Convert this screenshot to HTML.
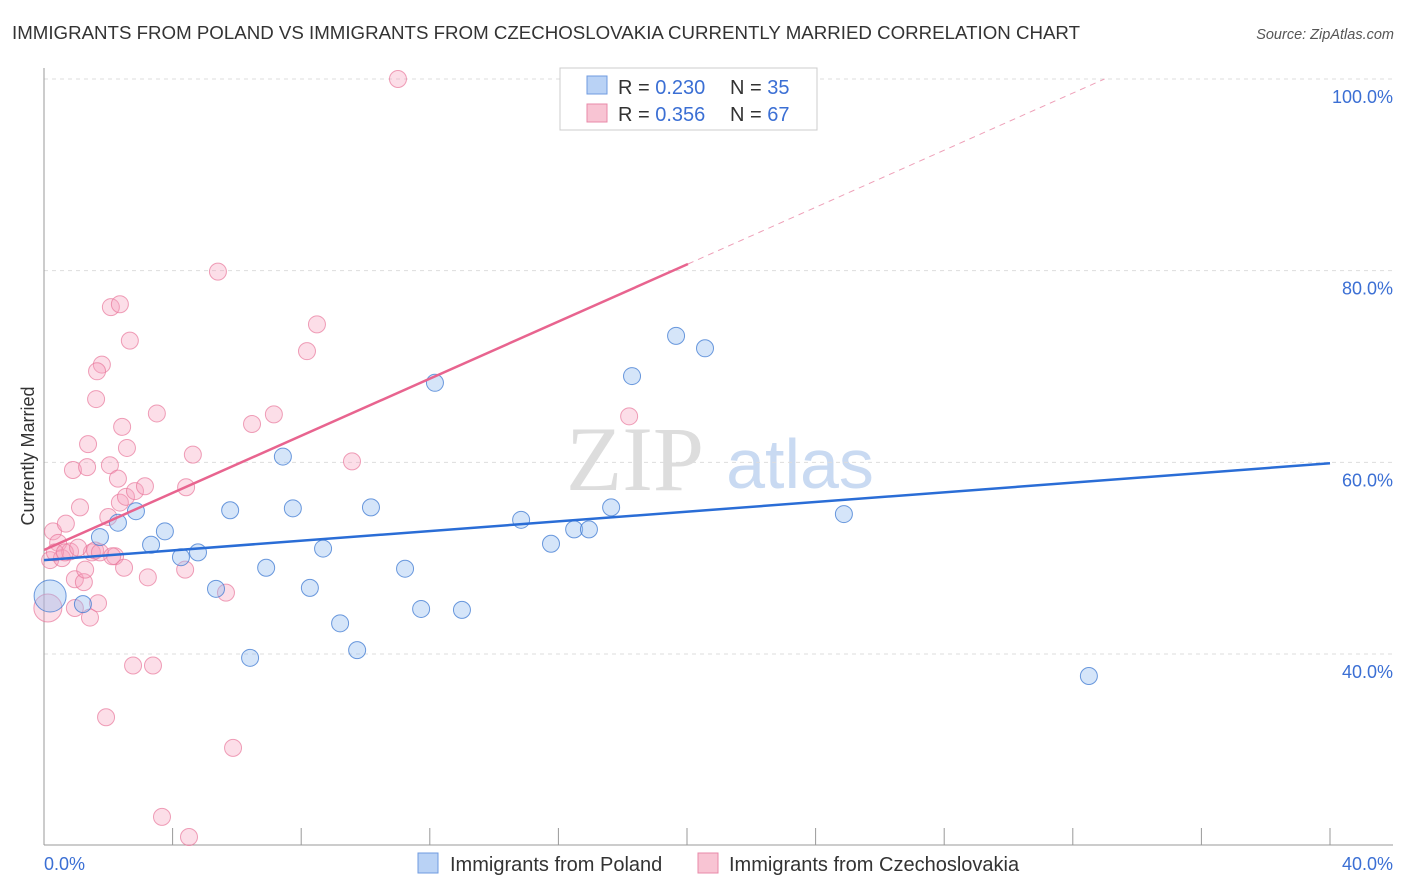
<!DOCTYPE html>
<html><head><meta charset="utf-8"><style>
body{margin:0;background:#fff;font-family:"Liberation Sans",sans-serif;}
svg{display:block}
</style></head><body>
<svg id="chart" width="1406" height="892">
<text x="12" y="39" font-size="18.6" fill="#333" textLength="1068" lengthAdjust="spacingAndGlyphs">IMMIGRANTS FROM POLAND VS IMMIGRANTS FROM CZECHOSLOVAKIA CURRENTLY MARRIED CORRELATION CHART</text>
<text x="1394" y="39" font-size="14.5" fill="#555" font-style="italic" text-anchor="end">Source: ZipAtlas.com</text>
<text x="635" y="490" font-size="92" fill="#ddd" font-family="Liberation Serif,serif" text-anchor="middle">ZIP</text>
<text x="800" y="488" font-size="70" fill="#c9daf2" text-anchor="middle">atlas</text>
<g id="grid"></g><g id="axes"></g><g id="marks"></g>
<text transform="translate(34,456) rotate(-90)" font-size="18" fill="#333" text-anchor="middle">Currently Married</text>
<g>
<rect x="560" y="68" width="257" height="62" fill="#fff" stroke="#ccc"/>
<rect x="587" y="76" width="20" height="18" fill="#b9d2f5" stroke="#6f9be0"/>
<rect x="587" y="104" width="20" height="18" fill="#f8c4d3" stroke="#e88aa8"/>
<text y="94" font-size="20" fill="#333"><tspan x="618">R = </tspan><tspan fill="#3b6fd4">0.230</tspan><tspan x="730">N = </tspan><tspan fill="#3b6fd4">35</tspan></text>
<text y="121" font-size="20" fill="#333"><tspan x="618">R = </tspan><tspan fill="#3b6fd4">0.356</tspan><tspan x="730">N = </tspan><tspan fill="#3b6fd4">67</tspan></text>
</g>
<g>
<rect x="418" y="853" width="20" height="20" fill="#b9d2f5" stroke="#6f9be0"/>
<text x="450" y="871" font-size="20" fill="#333">Immigrants from Poland</text>
<rect x="698" y="853" width="20" height="20" fill="#f8c4d3" stroke="#e88aa8"/>
<text x="729" y="871" font-size="20" fill="#333">Immigrants from Czechoslovakia</text>
</g>
</svg>
<script>
const blueX=[0.19,1.21,1.74,2.30,2.86,3.33,3.76,4.26,4.79,5.35,5.79,6.41,6.91,7.43,7.74,8.27,8.68,9.21,9.74,10.17,11.23,11.73,12.16,13.0,14.84,15.77,16.49,16.95,17.64,18.29,19.66,20.56,24.88,32.5];
const blueY=[46.05,45.2,52.2,53.7,54.9,51.4,52.8,50.1,50.6,46.8,55.0,39.6,49.0,60.6,55.2,46.9,51.0,43.2,40.4,55.3,48.9,44.7,68.3,44.6,54.0,51.5,53.0,53.0,55.3,69.0,73.2,71.9,54.6,37.7];
const pinkX=[0.12,0.19,0.28,0.44,0.56,0.68,0.81,0.9,0.96,0.96,1.12,1.24,1.28,1.34,1.37,1.43,1.49,1.59,1.68,1.8,1.65,1.62,1.93,2.0,2.05,2.08,2.21,2.3,2.36,2.36,2.43,2.49,2.55,2.58,2.67,2.77,2.83,3.14,3.23,3.39,3.51,3.67,4.42,4.39,4.51,4.63,5.41,5.66,5.88,6.47,7.15,8.18,8.49,9.58,11.01,18.2,0.34,0.65,1.06,1.74,2.12];
const pinkY=[44.8,49.8,52.8,51.6,50.0,53.6,50.7,59.2,44.8,47.8,55.3,47.5,48.8,59.5,61.9,43.8,50.6,50.8,45.3,70.2,69.5,66.6,33.4,54.3,59.7,76.2,50.2,58.3,55.8,76.5,63.7,49.0,56.4,61.5,72.7,38.8,57.0,57.5,48.0,38.8,65.1,23.0,57.4,48.8,20.9,60.8,79.9,46.4,30.2,64.0,65.0,71.6,74.4,60.1,100,64.8,50.6,50.6,51.1,50.6,50.2];
const yTicks=[40,60,80,100];
const yTickLabels=["40.0%","60.0%","80.0%","100.0%"];
const xTickLabels=["0.0%","40.0%"];
const blueTrend=[49.8,59.9];
const pinkTrend=[50.85,1.49];
const NS="http://www.w3.org/2000/svg";
function sx(v){return 44+v*32.15;}
function sy(v){return 79+(100-v)*9.583;}
function mk(tag,attrs,parent){const e=document.createElementNS(NS,tag);for(const k in attrs)e.setAttribute(k,attrs[k]);document.getElementById(parent).appendChild(e);return e;}
yTicks.forEach((t,i)=>{
 const l=mk('line',{x1:44,x2:1393,y1:sy(t),y2:sy(t),stroke:'#ddd','stroke-dasharray':'4,4'},'grid');
 
 
 const tx=mk('text',{x:1393,y:sy(t)+24,'font-size':18,fill:'#3b6fd4','text-anchor':'end'},'grid');
 tx.textContent=yTickLabels[i];
 
 
});
const ya=mk('line',{x1:44,x2:44,y1:68,y2:845,stroke:'#999'},'axes');


const xa=mk('line',{x1:44,x2:1393,y1:845,y2:845,stroke:'#999'},'axes');


for(let i=1;i<=10;i++){
 const v=i*4;
 const tk=mk('line',{x1:sx(v),x2:sx(v),y1:828,y2:845,stroke:'#999'},'axes');
 
 
}
[[0,'start',44],[40,'end',1393]].forEach((d,i)=>{
 const t=mk('text',{x:d[2],y:870,'font-size':18,fill:'#3b6fd4','text-anchor':d[1]},'axes');
 t.textContent=xTickLabels[i];
 
 
});
pinkX.forEach((x,i)=>{
 const c=mk('circle',{cx:sx(x),cy:sy(pinkY[i]),r:i===0?14:8.5,fill:'rgba(245,160,188,0.35)',stroke:'rgba(232,120,155,0.7)','stroke-width':1},'marks');
 
 
});
blueX.forEach((x,i)=>{
 const c=mk('circle',{cx:sx(x),cy:sy(blueY[i]),r:i===0?16:8.5,fill:'rgba(150,190,240,0.4)',stroke:'rgba(60,120,210,0.75)','stroke-width':1},'marks');
 
 
});
const bl=mk('line',{x1:sx(0),y1:sy(blueTrend[0]),x2:sx(40),y2:sy(blueTrend[1]),stroke:'#2a6dd6','stroke-width':2.5},'marks');


const pEnd=20.03, pDash=(100-pinkTrend[0])/pinkTrend[1];
const pl=mk('line',{x1:sx(0),y1:sy(pinkTrend[0]),x2:sx(pEnd),y2:sy(pinkTrend[0]+pinkTrend[1]*pEnd),stroke:'#e8648f','stroke-width':2.5},'marks');


const pd=mk('line',{x1:sx(pEnd),y1:sy(pinkTrend[0]+pinkTrend[1]*pEnd),x2:sx(pDash),y2:sy(100),stroke:'#eea0b8','stroke-width':1,'stroke-dasharray':'6,5'},'marks');


</script>
</body></html>
